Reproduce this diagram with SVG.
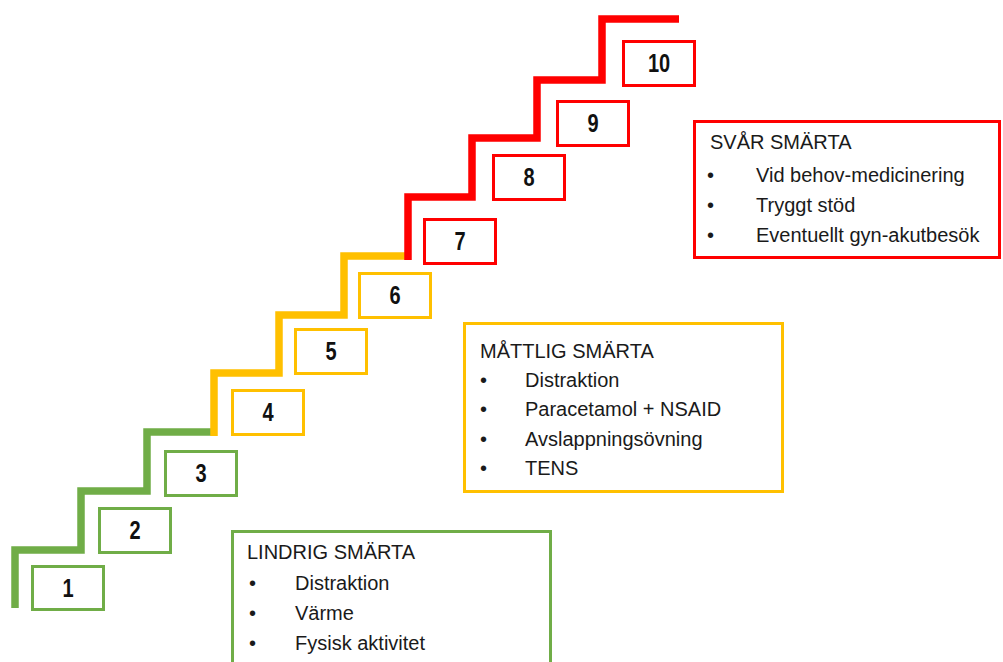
<svg xmlns="http://www.w3.org/2000/svg" width="1003" height="662" viewBox="0 0 1003 662">
<style>
.g{stroke:#70AD47}.y{stroke:#FFC000}.r{stroke:#FF0000}
.stair{fill:none;stroke-width:7.5;stroke-linejoin:miter;stroke-linecap:butt}
.box{fill:#fff;stroke-width:3}
.num{font-family:"Liberation Sans",Arial,sans-serif;font-weight:bold;font-size:25px;fill:#111;text-anchor:middle}
.txt{font-family:"Liberation Sans",Arial,sans-serif;font-size:20px;fill:#1a1a1a}
</style>
<rect width="1003" height="662" fill="#fff"/>
<g id="staircase">
<path class="stair g" d="M15,608 V550 H81 V491 H147 V432 H214"/>
<path class="stair y" d="M214,436 V373 H279 V315 H344 V256 H408"/>
<path class="stair r" d="M408,260 V197 H472 V138 H537 V80 H602 V19 H679"/>
</g>
<g id="step1"><rect class="box g" x="32.5" y="566.5" width="71" height="43"/><text class="num" transform="translate(68,597) scale(0.8,1)">1</text></g>
<g id="step2"><rect class="box g" x="99.5" y="508.5" width="71" height="44"/><text class="num" transform="translate(135,539) scale(0.8,1)">2</text></g>
<g id="step3"><rect class="box g" x="165.5" y="451.5" width="71" height="44"/><text class="num" transform="translate(201,482) scale(0.8,1)">3</text></g>
<g id="step4"><rect class="box y" x="232.5" y="390.5" width="71" height="44"/><text class="num" transform="translate(268,421) scale(0.8,1)">4</text></g>
<g id="step5"><rect class="box y" x="295.5" y="329.5" width="71" height="44"/><text class="num" transform="translate(331,360) scale(0.8,1)">5</text></g>
<g id="step6"><rect class="box y" x="359.5" y="273.5" width="71" height="44"/><text class="num" transform="translate(395,304) scale(0.8,1)">6</text></g>
<g id="step7"><rect class="box r" x="424.5" y="219.5" width="71" height="44"/><text class="num" transform="translate(460,250) scale(0.8,1)">7</text></g>
<g id="step8"><rect class="box r" x="493.5" y="155.5" width="71" height="44"/><text class="num" transform="translate(529,186) scale(0.8,1)">8</text></g>
<g id="step9"><rect class="box r" x="557.5" y="101.5" width="71" height="44"/><text class="num" transform="translate(593,132) scale(0.8,1)">9</text></g>
<g id="step10"><rect class="box r" x="623.5" y="41.5" width="71" height="44"/><text class="num" transform="translate(659,72) scale(0.8,1)">10</text></g>
<g id="svar">
<rect class="box r" x="694.5" y="121.5" width="305" height="136"/>
<text class="txt" x="710" y="149">SVÅR SMÄRTA</text>
<text class="txt" x="707" y="182">•</text><text class="txt" x="756" y="182">Vid behov-medicinering</text>
<text class="txt" x="707" y="212">•</text><text class="txt" x="756" y="212">Tryggt stöd</text>
<text class="txt" x="707" y="242">•</text><text class="txt" x="756" y="242">Eventuellt gyn-akutbesök</text>
</g>
<g id="mattlig">
<rect class="box y" x="464.5" y="323.5" width="318" height="168"/>
<text class="txt" x="480" y="358">MÅTTLIG SMÄRTA</text>
<text class="txt" x="480" y="387">•</text><text class="txt" x="525" y="387">Distraktion</text>
<text class="txt" x="480" y="416">•</text><text class="txt" x="525" y="416">Paracetamol + NSAID</text>
<text class="txt" x="480" y="446">•</text><text class="txt" x="525" y="446">Avslappningsövning</text>
<text class="txt" x="480" y="475">•</text><text class="txt" x="525" y="475">TENS</text>
</g>
<g id="lindrig">
<rect class="box g" x="232.5" y="531.5" width="318" height="140"/>
<text class="txt" x="247" y="559">LINDRIG SMÄRTA</text>
<text class="txt" x="249" y="590">•</text><text class="txt" x="295" y="590">Distraktion</text>
<text class="txt" x="249" y="620">•</text><text class="txt" x="295" y="620">Värme</text>
<text class="txt" x="249" y="650">•</text><text class="txt" x="295" y="650">Fysisk aktivitet</text>
</g>
</svg>
